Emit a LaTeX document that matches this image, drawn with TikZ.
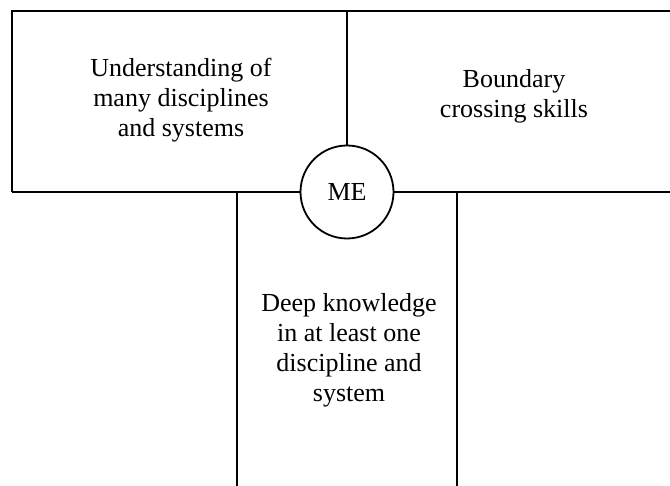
\documentclass[tikz,border=0pt]{standalone}
\usepackage{fontspec}
\setmainfont{Liberation Serif}
\usetikzlibrary{positioning}

\begin{document}
\begin{tikzpicture}[x=1pt,y=-1pt,line width=1.8pt,
  every node/.style={font=\fontsize{26}{30}\selectfont,align=center}]
\useasboundingbox (0,0) rectangle (670,486);
\coordinate (topleft) at (12,11);
\coordinate (topright) at (672,11);
\coordinate (midleft) at (12,192);
\coordinate (midright) at (672,192);
\coordinate (topmid) at (347,11);
\coordinate (stemleft) at (237,192);
\coordinate (stemright) at (457,192);
\coordinate (footleft) at (237,488);
\coordinate (footright) at (457,488);
% frame
\draw (midleft) -- (topleft) -- (topright);
\draw (midleft) -- (midright);
\draw (stemleft) -- (footleft);
\draw (stemright) -- (footright);
\node[circle,draw,fill=white,minimum size=93pt,inner sep=0pt] (me) at (347,192) {ME};
\draw (topmid) -- (me);
% texts
\node (wide) at (181,100) {Understanding of\\many disciplines\\and systems};
\node (cross) at (514,96) {Boundary\\crossing skills};
\node (deep) at (349,350) {Deep knowledge\\in at least one\\discipline and\\system};
\end{tikzpicture}
\end{document}
